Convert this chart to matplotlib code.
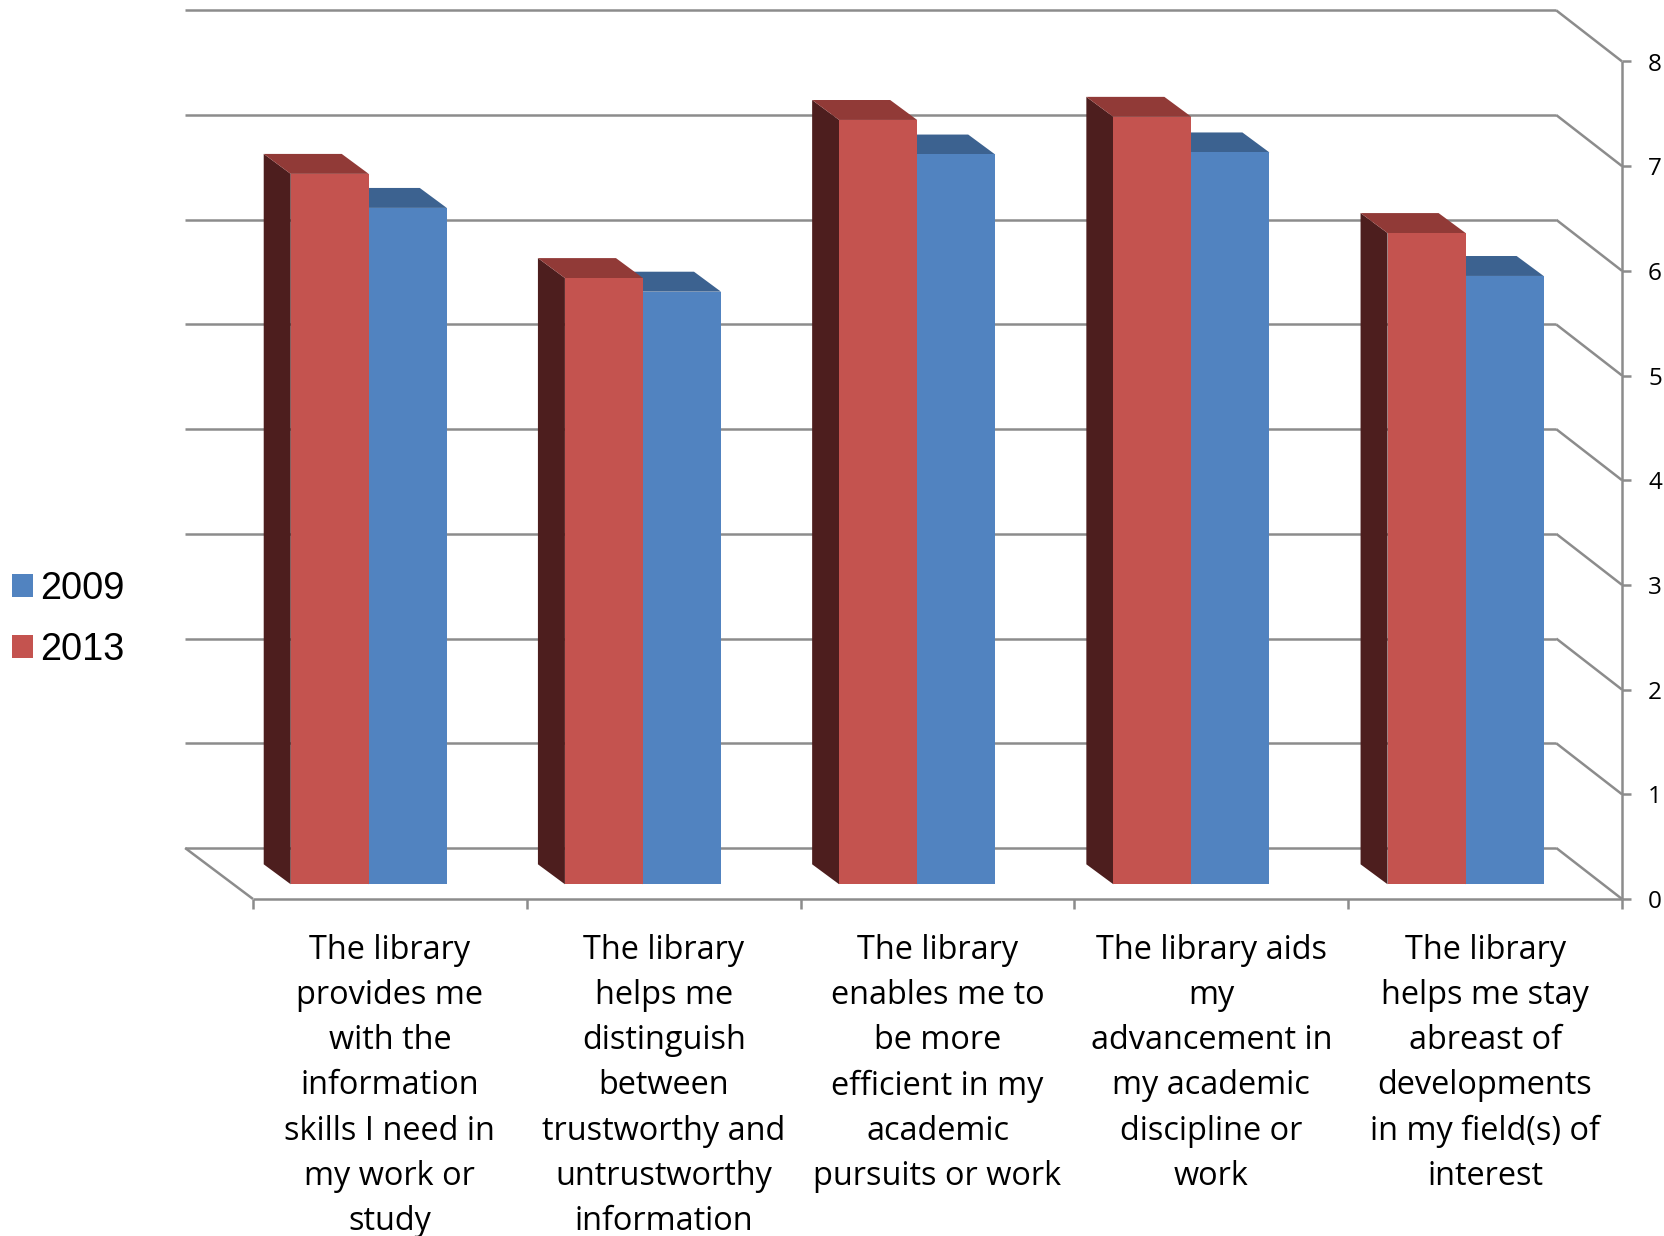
import matplotlib
matplotlib.use("Agg")
import matplotlib.pyplot as plt
from matplotlib.patches import Patch, Polygon

categories = [
    "The library\nprovides me\nwith the\ninformation\nskills I need in\nmy work or\nstudy",
    "The library\nhelps me\ndistinguish\nbetween\ntrustworthy and\nuntrustworthy\ninformation",
    "The library\nenables me to\nbe more\nefficient in my\nacademic\npursuits or work",
    "The library aids\nmy\nadvancement in\nmy academic\ndiscipline or\nwork",
    "The library\nhelps me stay\nabreast of\ndevelopments\nin my field(s) of\ninterest",
]
values_2009 = [6.46, 5.66, 6.97, 6.99, 5.81]
values_2013 = [6.785, 5.79, 7.30, 7.33, 6.22]
y_ticks = [0, 1, 2, 3, 4, 5, 6, 7, 8]

# fake 3d: one unit of depth moves a point left and up
DEPTH_X = -0.252
DEPTH_Y = 0.4872
BAR_FRONT = 0.289
BAR_BACK = 0.68
BAR_WIDTH = 0.285
BAR_START = 0.2105
BAR_STEP = 1.0015

GRID = "#8c8c8c"
RED = ("#c4534f", "#913a37", "#4d1e1e")
BLUE = ("#5183c0", "#3c6290", "#2f4d72")


def project(x, y, depth=0.0):
    return x + depth * DEPTH_X, y + depth * DEPTH_Y


def draw_line(ax, p1, p2):
    ax.plot([p1[0], p2[0]], [p1[1], p2[1]], color=GRID, lw=1.8, solid_capstyle="butt", zorder=1)


def draw_bar(ax, left, value, colors, zorder):
    right = left + BAR_WIDTH
    front, top, side = colors
    corners = lambda pts: [project(*p) for p in pts]
    ax.add_patch(Polygon(corners([(left, 0, BAR_BACK), (left, 0, BAR_FRONT),
                                  (left, value, BAR_FRONT), (left, value, BAR_BACK)]),
                         facecolor=side, edgecolor="none", zorder=zorder))
    ax.add_patch(Polygon(corners([(left, value, BAR_FRONT), (right, value, BAR_FRONT),
                                  (right, value, BAR_BACK), (left, value, BAR_BACK)]),
                         facecolor=top, edgecolor="none", zorder=zorder))
    ax.add_patch(Polygon(corners([(left, 0, BAR_FRONT), (right, 0, BAR_FRONT),
                                  (right, value, BAR_FRONT), (left, value, BAR_FRONT)]),
                         facecolor=front, edgecolor="none", zorder=zorder))


fig = plt.figure(figsize=(16.64, 12.36), dpi=100)
ax = fig.add_axes([0, 0, 1, 1])
ax.set_xlim(-253 / 273.8, (1664 - 253) / 273.8)
ax.set_ylim(-(1236 - 899) / 104.7, 899 / 104.7)
ax.axis("off")

n = len(categories)

# back wall gridlines and the side wall going to the front axis
for t in y_ticks:
    draw_line(ax, project(0.004, t, 1), project(n + 0.012, t, 1))
    draw_line(ax, project(n + 0.012, t, 1), project(n, t, 0))
draw_line(ax, project(0.004, 0, 1), project(0, 0, 0))

# front axes with ticks
draw_line(ax, project(0, 0), project(n, 0))
draw_line(ax, project(n, 0), project(n, y_ticks[-1]))
for i in range(n + 1):
    draw_line(ax, (i, 0), (i, -0.095))
for t in y_ticks:
    draw_line(ax, (n, t), (n + 0.033, t))
    ax.text(n + 0.095, t - 0.03, str(t), ha="left", va="center", fontsize=17.5,
            family="Open Sans", color="black")

# bars, blue first so the red one covers its top
for i in range(n):
    left = BAR_START + i * BAR_STEP
    draw_bar(ax, left + BAR_WIDTH, values_2009[i], BLUE, 3)
    draw_bar(ax, left, values_2013[i], RED, 4)
    ax.text(i + 0.5, -0.33, categories[i], ha="center", va="top", fontsize=23.4,
            family="Open Sans", color="black", linespacing=1.49)

handles = [Patch(facecolor=BLUE[0], label="2009"), Patch(facecolor=RED[0], label="2013")]
ax.legend(handles=handles, loc="upper left", bbox_to_anchor=(12 / 1664, 1 - 571 / 1236),
          frameon=False, borderpad=0, borderaxespad=0,
          prop={"family": "Liberation Sans", "size": 27.4},
          handlelength=0.55, handleheight=0.55, handletextpad=0.2, labelspacing=0.66)

fig.savefig("out.png", dpi=100)
